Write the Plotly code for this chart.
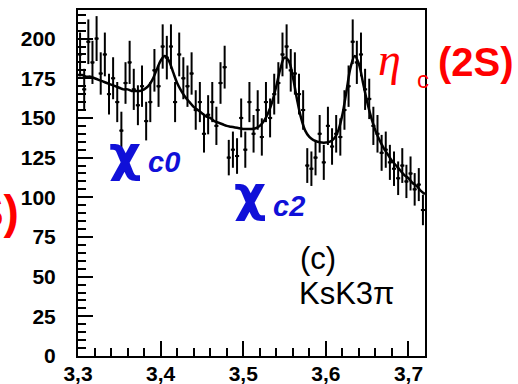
import numpy as np
import plotly.graph_objects as go

# ---- data ----
bin_lo = 3.30
bin_width = 0.005
counts = [190, 168, 198, 185, 200, 178, 190, 165, 175, 160,
          142, 172, 185, 168, 158, 170, 148, 160, 180, 170,
          195, 188, 195, 160, 190, 175, 170, 178, 155, 160,
          140, 152, 160, 145, 172, 182, 125, 130, 126, 150,
          130, 160, 140, 155, 138, 160, 150, 165, 172, 190,
          195, 180, 178, 165, 155, 120, 118, 125, 140, 122,
          145, 132, 140, 138, 155, 170, 198, 185, 190, 168,
          162, 145, 140, 128, 130, 122, 118, 112, 120, 110,
          115, 105, 108, 92]
bin_centers = [round(bin_lo + bin_width * (i + 0.5), 4) for i in range(len(counts))]
count_errors = [float(np.sqrt(c)) for c in counts]

fit_x = [round(3.30 + 0.005 * i, 3) for i in range(85)]
fit_y = [177, 177, 176, 176, 175, 174, 173, 172, 171, 170,
         169, 168, 168, 167, 167, 167, 168, 170, 174, 180,
         186, 189, 186, 179, 172, 167, 163, 160, 157, 155,
         153, 151, 150, 148, 147, 146, 145, 144.5, 144, 143.5,
         143, 143, 143, 143.5, 145, 148, 153, 160, 170, 181,
         188, 186, 176, 162, 150, 142, 138, 136, 135, 134.5,
         134.5, 135, 137, 142, 152, 167, 182, 189, 184, 172,
         160, 150, 142, 136, 131, 127, 123, 120, 117, 114,
         112, 109, 107, 104, 102]

x_tick_vals = [3.3, 3.4, 3.5, 3.6, 3.7]
x_tick_text = ["3,3", "3,4", "3,5", "3,6", "3,7"]
y_tick_vals = [0, 25, 50, 75, 100, 125, 150, 175, 200]

# ---- layout geometry ----
W, H = 518, 384
L, R, T, B = 78, 425, 10, 356


def px(x):
    return (x - L) / (R - L)


def py(y):
    return (B - y) / (B - T)


fig = go.Figure()
fig.add_trace(go.Scatter(
    x=bin_centers, y=counts, mode="markers",
    marker=dict(size=3, color="black"),
    error_y=dict(type="data", array=count_errors, color="black", thickness=2, width=0),
    error_x=dict(type="constant", value=bin_width / 2, color="black", thickness=2, width=0),
    showlegend=False, hoverinfo="skip"))
fig.add_trace(go.Scatter(
    x=fit_x, y=fit_y, mode="lines", line=dict(color="black", width=2.5, shape="spline"),
    showlegend=False, hoverinfo="skip"))

red = "#ff0000"
blue = "#1010d8"
ann = []


def add(text, x, y, size, color, family="Liberation Sans", xanchor="center", yanchor="middle", weight="normal", style="normal"):
    ann.append(dict(text=text, xref="paper", yref="paper", x=px(x), y=py(y),
                    xanchor=xanchor, yanchor=yanchor, showarrow=False,
                    font=dict(size=size, color=color, family=family, weight=weight, style=style)))


add("η", 389, 60, 46, red, family="Liberation Serif", style="italic")
add("c", 423, 80, 24, red)
add("(2S)", 436, 62, 40, red, xanchor="left", weight="bold")
add("(2S)", 21, 212, 46, red, xanchor="right", weight="bold")
add("χ", 125, 154, 50, blue, family="DejaVu Sans", weight="bold")
add("c0", 146, 162, 29, blue, xanchor="left", weight="bold", style="italic")
add("χ", 250, 194, 50, blue, family="DejaVu Sans", weight="bold")
add("c2", 271, 206, 29, blue, xanchor="left", weight="bold", style="italic")
add("(c)", 298, 258, 31, "black", xanchor="left")
add("KsK3π", 297, 293, 31, "black", xanchor="left")

axis_common = dict(showline=True, linecolor="black", linewidth=2, mirror=True,
                   ticks="inside", tickcolor="black", tickwidth=2, ticklen=15,
                   showgrid=False, zeroline=False, automargin=False,
                   tickfont=dict(family="Liberation Sans", size=21, color="black", weight="bold"))

fig.update_layout(
    width=W, height=H,
    margin=dict(l=L, r=W - R, t=T, b=H - B),
    paper_bgcolor="white", plot_bgcolor="white",
    xaxis=dict(range=[3.3, 3.72], tickvals=x_tick_vals, ticktext=x_tick_text,
               minor=dict(ticks="inside", dtick=0.02, tick0=3.3, ticklen=8, tickwidth=2, tickcolor="black"),
               ticklabelstandoff=-2, **axis_common),
    yaxis=dict(range=[0, 218], tickvals=y_tick_vals,
               minor=dict(ticks="inside", dtick=5, tick0=0, ticklen=8, tickwidth=2, tickcolor="black"),
               ticklabelstandoff=16, **axis_common),
    annotations=ann,
)

fig.write_html("out.html")
